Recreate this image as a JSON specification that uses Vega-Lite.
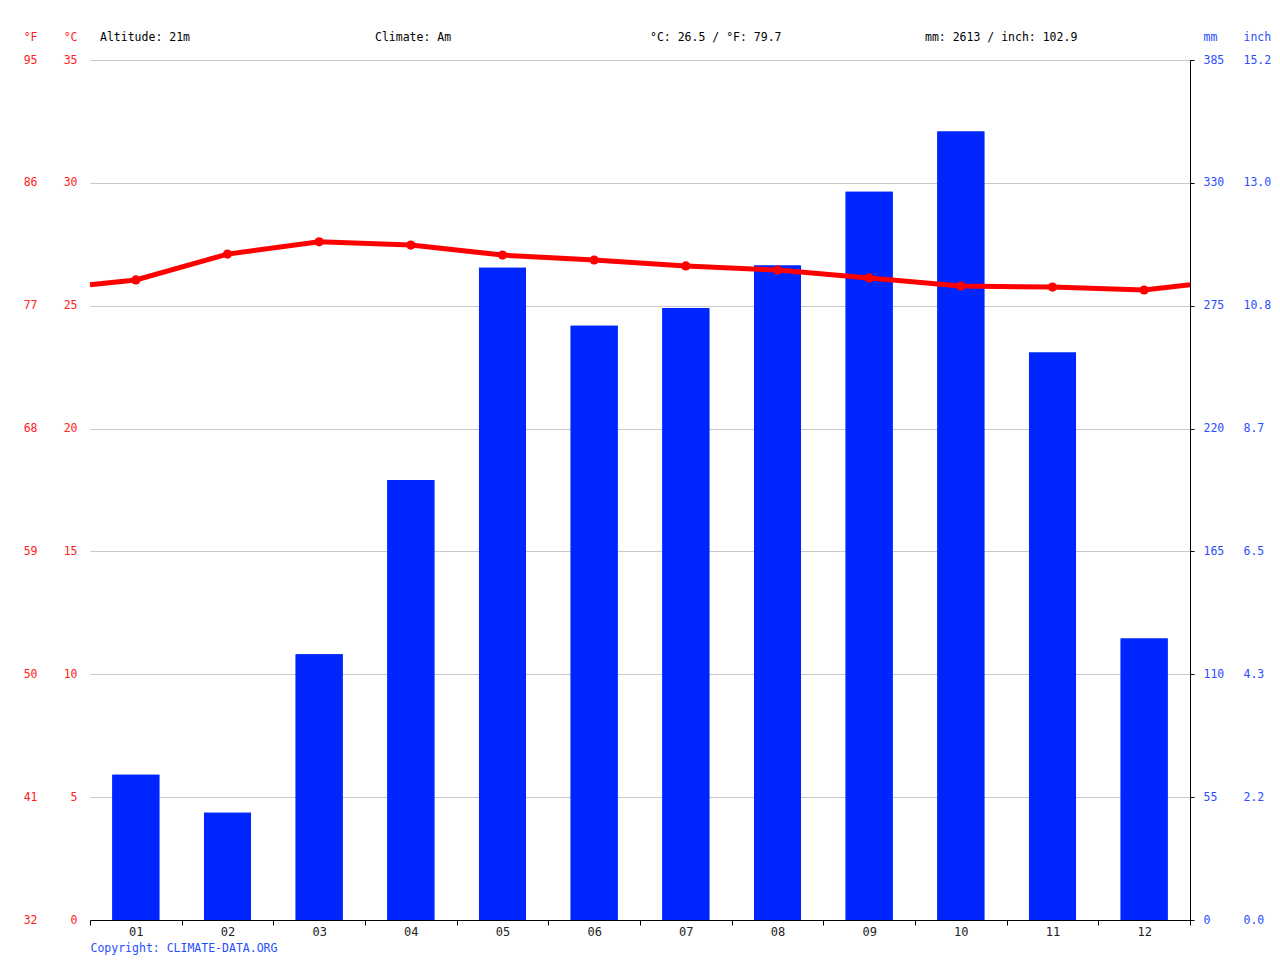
{
  "$schema": "https://vega.github.io/schema/vega-lite/v6.json",
  "autosize": {"type": "pad"},
  "padding": {"left": 23, "top": 24, "right": 5, "bottom": 5},
  "bounds": "flush",
  "spacing": 9,
  "config": {
    "font": "DejaVu Sans Mono",
    "view": {"stroke": null},
    "axis": {"labelFont": "DejaVu Sans Mono", "titleFont": "DejaVu Sans Mono", "titleFontWeight": "normal"}
  },
  "datasets": {
    "header": [
      {"label": "Altitude: 21m"},
      {"label": "Climate: Am"},
      {"label": "°C: 26.5 / °F: 79.7"},
      {"label": "mm: 2613 / inch: 102.9"}
    ],
    "precipitation": [
      {"month": "01", "mm": 65},
      {"month": "02", "mm": 48},
      {"month": "03", "mm": 119},
      {"month": "04", "mm": 197},
      {"month": "05", "mm": 292},
      {"month": "06", "mm": 266},
      {"month": "07", "mm": 274},
      {"month": "08", "mm": 293},
      {"month": "09", "mm": 326},
      {"month": "10", "mm": 353},
      {"month": "11", "mm": 254},
      {"month": "12", "mm": 126}
    ],
    "temperature": [
      {"month": 0.5, "temp": 25.85},
      {"month": 1, "temp": 26.05},
      {"month": 2, "temp": 27.1},
      {"month": 3, "temp": 27.6},
      {"month": 4, "temp": 27.47},
      {"month": 5, "temp": 27.06},
      {"month": 6, "temp": 26.86},
      {"month": 7, "temp": 26.62},
      {"month": 8, "temp": 26.45},
      {"month": 9, "temp": 26.13},
      {"month": 10, "temp": 25.8},
      {"month": 11, "temp": 25.76},
      {"month": 12, "temp": 25.64},
      {"month": 12.5, "temp": 25.85}
    ]
  },
  "vconcat": [
    {
      "width": 1100,
      "height": 27,
      "data": {"name": "header"},
      "mark": {"type": "text", "align": "left", "dx": 10, "fontSize": 11.5, "color": "#000000", "font": "DejaVu Sans Mono"},
      "encoding": {
        "x": {
          "field": "label",
          "type": "nominal",
          "sort": null,
          "bandPosition": 0,
          "scale": {"type": "band", "paddingInner": 0, "paddingOuter": 0},
          "axis": null
        },
        "text": {"field": "label"}
      }
    },
    {
      "width": 1100,
      "height": 860,
      "layer": [
        {
          "data": {"name": "precipitation"},
          "mark": {"type": "bar", "color": "#0026ff", "width": {"band": 0.513}},
          "encoding": {
            "x": {
              "field": "month",
              "type": "nominal",
              "scale": {"type": "band", "paddingInner": 0, "paddingOuter": 0},
              "axis": {
                "orient": "bottom",
                "title": "Copyright: CLIMATE-DATA.ORG",
                "titleColor": "#1f4fff",
                "titleFontSize": 11.5,
                "titleAnchor": "start",
                "titleAlign": "left",
                "titlePadding": 5,
                "labelAngle": 0,
                "labelFontSize": 12,
                "labelColor": "#222222",
                "labelPadding": 1,
                "tickBand": "extent",
                "tickSize": 5,
                "tickColor": "#000000",
                "domainColor": "#000000",
                "grid": false,
                "zindex": 1
              }
            },
            "y": {
              "field": "mm",
              "type": "quantitative",
              "scale": {"domain": [0, 385], "nice": false},
              "axis": {
                "orient": "right",
                "values": [0, 55, 110, 165, 220, 275, 330, 385],
                "labelColor": "#2a4dff",
                "labelFontSize": 11.5,
                "labelPadding": 9,
                "tickSize": 4,
                "tickColor": "#000000",
                "domainColor": "#000000",
                "grid": false,
                "zindex": 1,
                "title": "mm",
                "titleColor": "#2a4dff",
                "titleFontSize": 11.5,
                "titleAngle": 0,
                "titleAlign": "left",
                "titleBaseline": "middle",
                "titleX": 13,
                "titleY": -23
              }
            }
          }
        },
        {
          "data": {"name": "precipitation"},
          "mark": {"type": "bar", "color": "#0026ff", "width": {"band": 0.513}},
          "encoding": {
            "x": {
              "field": "month",
              "type": "nominal",
              "scale": {"type": "band", "paddingInner": 0, "paddingOuter": 0},
              "axis": null
            },
            "y": {
              "field": "mm",
              "type": "quantitative",
              "scale": {"domain": [0, 385], "nice": false},
              "axis": {
                "orient": "right",
                "offset": 48,
                "values": [0, 55, 110, 165, 220, 275, 330, 385],
                "labelExpr": "format(datum.value / 25.4, '.1f')",
                "labelColor": "#2a4dff",
                "labelFontSize": 11.5,
                "labelPadding": 5,
                "ticks": false,
                "domain": false,
                "grid": false,
                "title": "inch",
                "titleColor": "#2a4dff",
                "titleFontSize": 11.5,
                "titleAngle": 0,
                "titleAlign": "left",
                "titleBaseline": "middle",
                "titleX": 5,
                "titleY": -23
              }
            }
          }
        },
        {
          "data": {"name": "temperature"},
          "mark": {"type": "line", "color": "#ff0000", "strokeWidth": 5},
          "encoding": {
            "x": {
              "field": "month",
              "type": "quantitative",
              "scale": {"domain": [0.5, 12.5], "nice": false, "zero": false},
              "axis": null
            },
            "y": {
              "field": "temp",
              "type": "quantitative",
              "scale": {"domain": [0, 35], "nice": false},
              "axis": {
                "orient": "left",
                "values": [0, 5, 10, 15, 20, 25, 30, 35],
                "labelColor": "#ff2020",
                "labelFontSize": 11.5,
                "labelPadding": 13,
                "ticks": false,
                "domain": false,
                "grid": true,
                "gridColor": "#c8c8c8",
                "title": "°C",
                "titleColor": "#ff2020",
                "titleFontSize": 11.5,
                "titleAngle": 0,
                "titleAlign": "right",
                "titleBaseline": "middle",
                "titleX": -13,
                "titleY": -23
              }
            }
          }
        },
        {
          "data": {"name": "temperature"},
          "transform": [{"filter": "datum.month >= 1 && datum.month <= 12"}],
          "mark": {"type": "point", "filled": true, "color": "#ff0000", "size": 85, "opacity": 1},
          "encoding": {
            "x": {
              "field": "month",
              "type": "quantitative",
              "scale": {"domain": [0.5, 12.5], "nice": false, "zero": false},
              "axis": null
            },
            "y": {
              "field": "temp",
              "type": "quantitative",
              "scale": {"domain": [0, 35], "nice": false},
              "axis": {
                "orient": "left",
                "offset": 53,
                "values": [0, 5, 10, 15, 20, 25, 30, 35],
                "labelExpr": "format(datum.value * 9 / 5 + 32, 'd')",
                "labelColor": "#ff2020",
                "labelFontSize": 11.5,
                "labelPadding": 0,
                "ticks": false,
                "domain": false,
                "grid": false,
                "title": "°F",
                "titleColor": "#ff2020",
                "titleFontSize": 11.5,
                "titleAngle": 0,
                "titleAlign": "right",
                "titleBaseline": "middle",
                "titleX": 0,
                "titleY": -23
              }
            }
          }
        }
      ],
      "resolve": {"scale": {"x": "independent", "y": "independent"}}
    }
  ]
}
